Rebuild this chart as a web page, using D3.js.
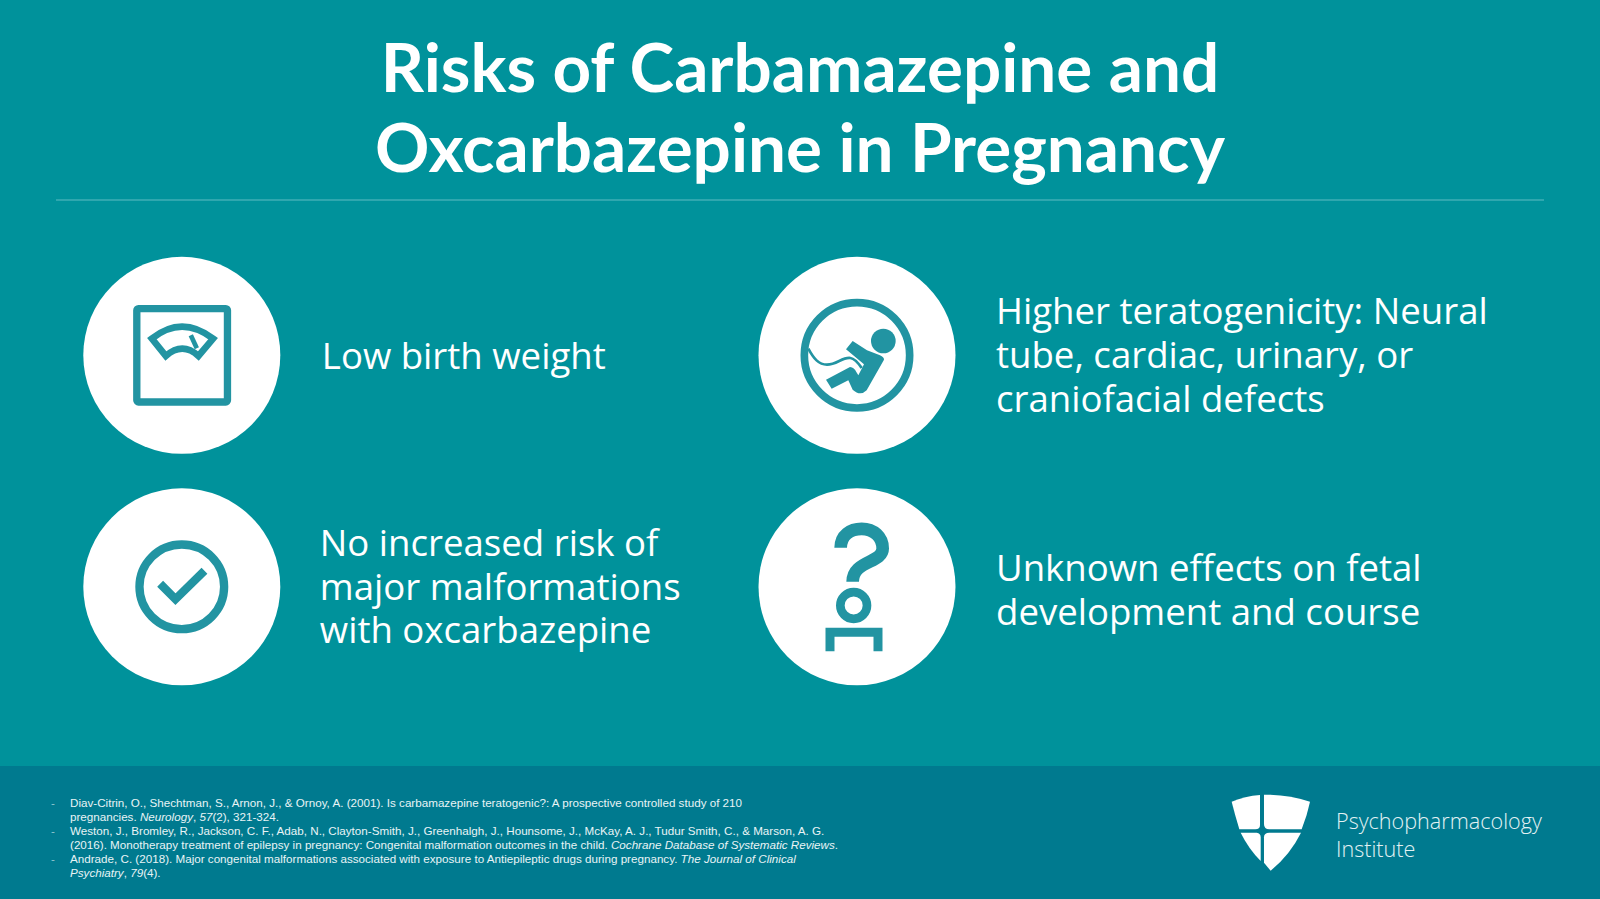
<!DOCTYPE html>
<html lang="en">
<head>
<meta charset="UTF-8">
<title>Risks of Carbamazepine and Oxcarbazepine in Pregnancy</title>
<script src="https://d3js.org/d3.v7.min.js"></script>
<style>
  html, body { margin: 0; padding: 0; background: #00929b; }
  svg { display: block; }
</style>
</head>
<body>
<div id="slide"></div>
<script>
const titleLines = ["Risks of Carbamazepine and", "Oxcarbazepine in Pregnancy"];
const columns = ["left", "right"];
const rows = ["top", "bottom"];
const riskColumn = ["left", "right", "left", "right"];
const riskRow = ["top", "top", "bottom", "bottom"];
const riskIcons = ["scale", "fetus", "check", "question"];
const riskLabels = [
  ["Low birth weight"],
  ["Higher teratogenicity: Neural", "tube, cardiac, urinary, or", "craniofacial defects"],
  ["No increased risk of", "major malformations", "with oxcarbazepine"],
  ["Unknown effects on fetal", "development and course"]
];
// each reference line is a list of [text, italic] runs
const references = [
  [true, [["Diav-Citrin, O., Shechtman, S., Arnon, J., & Ornoy, A. (2001). Is carbamazepine teratogenic?: A prospective controlled study of 210", false]]],
  [false, [["pregnancies. ", false], ["Neurology", true], [", ", false], ["57", true], ["(2), 321-324.", false]]],
  [true, [["Weston, J., Bromley, R., Jackson, C. F., Adab, N., Clayton-Smith, J., Greenhalgh, J., Hounsome, J., McKay, A. J., Tudur Smith, C., & Marson, A. G.", false]]],
  [false, [["(2016). Monotherapy treatment of epilepsy in pregnancy: Congenital malformation outcomes in the child. ", false], ["Cochrane Database of Systematic Reviews", true], [".", false]]],
  [true, [["Andrade, C. (2018). Major congenital malformations associated with exposure to Antiepileptic drugs during pregnancy. ", false], ["The Journal of Clinical", true]]],
  [false, [["Psychiatry", true], [", ", false], ["79", true], ["(4).", false]]]
];
const brandLines = ["Psychopharmacology", "Institute"];

const width = 1600, height = 899;
const iconColor = "#2294a2";

const svg = d3.select("#slide").append("svg")
  .attr("width", width).attr("height", height);

svg.append("rect").attr("width", width).attr("height", height).attr("fill", "#00929b");
svg.append("rect").attr("y", 766).attr("width", width).attr("height", height - 766).attr("fill", "#007a8f");

// title
svg.append("g").selectAll("text").data(titleLines).join("text")
  .attr("x", 800)
  .attr("y", (d, i) => 92 + i * 79.5)
  .attr("text-anchor", "middle")
  .attr("font-family", "Lato")
  .attr("font-weight", 700)
  .attr("font-size", 67.4)
  .attr("fill", "#fff")
  .text(d => d);

svg.append("line")
  .attr("x1", 56).attr("x2", 1544).attr("y1", 200).attr("y2", 200)
  .attr("stroke", "#5fbcc3").attr("stroke-width", 1.2);

// grid of risks
const colScale = d3.scaleOrdinal().domain(columns).range([181.8, 857]);
const rowScale = d3.scaleOrdinal().domain(rows).range([355.3, 586.8]);

// icons are drawn in zoomed-crop units, 3 per pixel, around their own centre
const iconDraw = {
  scale(g) {
    g.append("rect").attr("x", -135).attr("y", -140).attr("width", 272).attr("height", 280).attr("rx", 5)
      .attr("fill", "none").attr("stroke", iconColor).attr("stroke-width", 22);
    g.append("path")
      .attr("d", "M-90,-50 Q0,-122 94,-50 L50,2 Q2,-42 -48,2 Z")
      .attr("fill", "none").attr("stroke", iconColor).attr("stroke-width", 20).attr("stroke-linejoin", "miter");
    g.append("path").attr("d", "M27,-60 L45,-21").attr("stroke", iconColor).attr("stroke-width", 14);
  },
  fetus(g) {
    g.append("circle").attr("r", 158).attr("fill", "none").attr("stroke", iconColor).attr("stroke-width", 23);
    g.append("circle").attr("cx", 79).attr("cy", -43).attr("r", 37).attr("fill", iconColor);
    g.append("path")
      .attr("d", "M-33,-18 L-13,-43 L30,-15 L69,0 Q81,5 81,13 L29,105 Q10,124 -13,103 L-26,75 L-76,100 L-93,73 L-21,35 Q-8,37 -2,50 L4,60 L21,27 Z")
      .attr("fill", iconColor);
    g.append("path")
      .attr("d", "M-146,-20 C-130,10 -115,28 -90,28 C-60,28 -45,5 -20,8 C-5,10 5,25 14,38")
      .attr("fill", "none").attr("stroke", iconColor).attr("stroke-width", 8);
  },
  check(g) {
    g.append("circle").attr("r", 127).attr("fill", "none").attr("stroke", iconColor).attr("stroke-width", 25);
    g.append("path").attr("d", "M-65,-9 L-19,37 L68,-48")
      .attr("fill", "none").attr("stroke", iconColor).attr("stroke-width", 25);
  },
  question(g) {
    g.append("path")
      .attr("d", "M-49,-117 C-49,-155 -20,-174 14,-174 C50,-174 77,-150 77,-115 C77,-70 -13,-80 -13,-15")
      .attr("fill", "none").attr("stroke", iconColor).attr("stroke-width", 38);
    g.append("circle").attr("cx", -10).attr("cy", 56).attr("r", 40).attr("fill", "none").attr("stroke", iconColor).attr("stroke-width", 26);
    g.append("path").attr("d", "M-81,193 L-81,136 L63,136 L63,193")
      .attr("fill", "none").attr("stroke", iconColor).attr("stroke-width", 27);
  }
};

const cells = svg.append("g").selectAll("g").data(riskLabels).join("g")
  .attr("transform", (d, i) => `translate(${colScale(riskColumn[i])},${rowScale(riskRow[i])})`);

cells.append("circle").attr("r", 98.5).attr("fill", "#fff");

cells.append("g").attr("transform", "scale(0.3333)")
  .each(function(d, i) { iconDraw[riskIcons[i]](d3.select(this)); });

// small hand nudges so each text block sits where the slide has it
const labelNudgeX = { scale: 0, fetus: -1, check: -2, question: -1 };
const labelNudgeY = { scale: 1, fetus: 0, check: 0, question: 3 };

cells.each(function(lines, i) {
  const lineGap = 44;
  const icon = riskIcons[i];
  d3.select(this).selectAll("text").data(lines).join("text")
    .attr("x", 140 + labelNudgeX[icon])
    .attr("y", (d, j) => 12.7 + labelNudgeY[icon] + (j - (lines.length - 1) / 2) * lineGap)
    .attr("font-family", "Open Sans")
    .attr("font-size", 36.6)
    .attr("fill", "#fff")
    .text(d => d);
});

// references
const refs = svg.append("g")
  .attr("font-family", "Liberation Sans")
  .attr("font-size", 11.65)
  .attr("fill", "#e8f4f6");
references.forEach((ref, i) => {
  const y = 807 + i * 13.9;
  if (ref[0]) {
    refs.append("text").attr("x", 51).attr("y", y).attr("fill", "#8fc7d0").text("-");
  }
  const line = refs.append("text").attr("x", 70).attr("y", y);
  ref[1].forEach(run => {
    line.append("tspan").attr("font-style", run[1] ? "italic" : "normal").text(run[0]);
  });
});

// logo
const logo = svg.append("g").attr("transform", "translate(1200,780) scale(0.3333)");
logo.append("path")
  .attr("d", "M95,65 Q135,48 180,45 L180,135 Q180,148 166,148 L118,148 Q105,105 95,65 Z")
  .attr("fill", "#fff");
logo.append("path")
  .attr("d", "M192,44 Q265,44 330,65 Q322,105 305,148 L208,148 Q192,148 192,132 Z")
  .attr("fill", "#fff");
logo.append("path")
  .attr("d", "M122,158 L170,158 Q182,160 182,172 L182,243 Q145,205 122,158 Z")
  .attr("fill", "#fff");
logo.append("path")
  .attr("d", "M303,158 Q270,225 212,272 L192,248 L192,172 Q192,158 208,158 Z")
  .attr("fill", "#fff");

svg.append("g").selectAll("text").data(brandLines).join("text")
  .attr("x", 1336)
  .attr("y", (d, i) => 829 + i * 27.5)
  .attr("font-family", "Open Sans")
  .attr("font-weight", 300)
  .attr("font-size", 21.6)
  .attr("fill", "#e3f2f4")
  .text(d => d);
</script>
</body>
</html>
